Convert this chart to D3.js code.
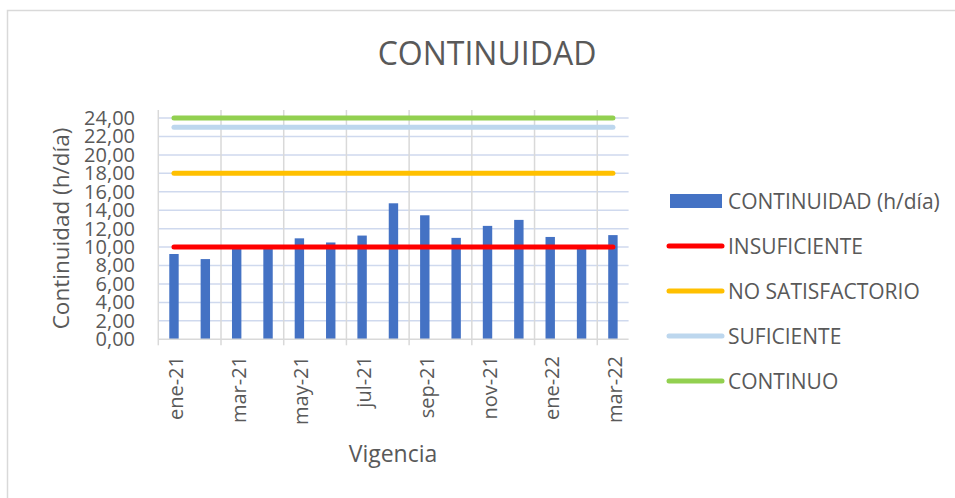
<!DOCTYPE html>
<html><head><meta charset="utf-8">
<script src="https://cdn.jsdelivr.net/npm/d3@7"></script>
<style>body{margin:0;background:#fff;} svg{display:block;font-family:"Open Sans",sans-serif;}</style>
</head><body>
<svg id="c" width="955" height="498"></svg>
<script>
const categories = ["ene-21","feb-21","mar-21","abr-21","may-21","jun-21","jul-21","ago-21","sep-21","oct-21","nov-21","dic-21","ene-22","feb-22","mar-22"];
const continuidad = [9.25, 8.7, 9.9, 9.9, 10.95, 10.5, 11.25, 14.75, 13.45, 11.0, 12.3, 12.95, 11.1, 9.9, 11.3];
const thresholdNames = ["INSUFICIENTE","NO SATISFACTORIO","SUFICIENTE","CONTINUO"];
const thresholdValues = [10, 18, 23, 24];
const thresholdColors = ["#FF0000","#FFC000","#BDD7EE","#92D050"];
const yTicks = [0,2,4,6,8,10,12,14,16,18,20,22,24];
const xTickLabels = ["ene-21","mar-21","may-21","jul-21","sep-21","nov-21","ene-22","mar-22"];
const barName = "CONTINUIDAD (h/día)";
const barColor = "#4472C4";
const txt = "#595959";

const svg = d3.select("#c");
svg.append("rect").attr("x",7.5).attr("y",10.5).attr("width",960).attr("height",500)
  .attr("fill","#fff").attr("stroke","#d9d9d9").attr("stroke-width",1.5);

const L = 158.3, R = 628.6, T = 118, B = 339.3;
const x = d3.scaleBand().domain(categories).range([L, R]).padding(0);
const y = d3.scaleLinear().domain([0, 24]).range([B, T]);

// horizontal gridlines
svg.append("g").selectAll("line").data(yTicks.filter(d=>d>0)).join("line")
  .attr("x1", L).attr("x2", R).attr("y1", d=>y(d)).attr("y2", d=>y(d))
  .attr("stroke","#CFD9EE").attr("stroke-width",1.5);
// vertical gridlines at every other category boundary
const vIdx = categories.map((c,i)=>i).filter(i=>i%2===0);
svg.append("g").selectAll("line").data(vIdx).join("line")
  .attr("x1", i=>x(categories[i])).attr("x2", i=>x(categories[i]))
  .attr("y1", T-8).attr("y2", B+6)
  .attr("stroke","#d9d9d9").attr("stroke-width",1.5);

// bars
const bw = x.step()*0.30;
svg.append("g").selectAll("rect").data(continuidad).join("rect")
  .attr("x",(d,i)=>x(categories[i])+x.bandwidth()/2-bw/2)
  .attr("y", d=>y(d)).attr("width", bw).attr("height", d=>y(0)-y(d))
  .attr("fill", barColor);

// threshold lines
thresholdValues.forEach((v,k)=>{
  const pts = categories.map(c=>[x(c)+x.bandwidth()/2, y(v)]);
  svg.append("path").attr("d", d3.line()(pts)).attr("fill","none")
    .attr("stroke", thresholdColors[k]).attr("stroke-width",5).attr("stroke-linecap","round");
});

// x axis line
svg.append("line").attr("x1",L).attr("x2",R).attr("y1",B).attr("y2",B)
  .attr("stroke","#d9d9d9").attr("stroke-width",1.5);

// y tick labels
const yAxis = d3.axisLeft(y).tickValues(yTicks).tickSize(0).tickPadding(0)
  .tickFormat(d=>d3.format(".2f")(d).replace(".",","));
const gy = svg.append("g").attr("transform",`translate(135,0)`).call(yAxis);
gy.select(".domain").remove();
gy.selectAll("text").attr("fill",txt).style("font-size","20px").style("font-family","'Open Sans',sans-serif");

// x tick labels
svg.append("g").selectAll("text").data(xTickLabels).join("text")
  .attr("transform", d=>`translate(${x(d)+x.bandwidth()/2+2},356) rotate(-90)`)
  .attr("text-anchor","end").attr("dy","0.35em")
  .attr("fill",txt).style("font-size","20px").text(d=>d);

// titles
svg.append("text").attr("x",487).attr("y",65).attr("text-anchor","middle")
  .attr("fill",txt).style("font-size","32px").text("CONTINUIDAD");
svg.append("text").attr("transform",`translate(69,228.5) rotate(-90)`).attr("text-anchor","middle")
  .attr("fill",txt).style("font-size","22.5px").text("Continuidad (h/día)");
svg.append("text").attr("x",393).attr("y",462).attr("text-anchor","middle")
  .attr("fill",txt).style("font-size","23px").text("Vigencia");

// legend
const lg = svg.append("g");
const ly0 = 201, lstep = 45;
lg.append("rect").attr("x",670).attr("y",ly0-7).attr("width",52).attr("height",14).attr("fill",barColor);
lg.append("text").attr("x",728).attr("y",ly0+7.5).attr("fill",txt).style("font-size","21px").text(barName);
thresholdNames.forEach((n,k)=>{
  const yy = ly0 + lstep*(k+1);
  lg.append("line").attr("x1",669).attr("x2",722).attr("y1",yy).attr("y2",yy)
    .attr("stroke",thresholdColors[k]).attr("stroke-width",5).attr("stroke-linecap","round");
  lg.append("text").attr("x",728).attr("y",yy+7.5).attr("fill",txt).style("font-size","21px").text(n);
});
</script>
</body></html>
